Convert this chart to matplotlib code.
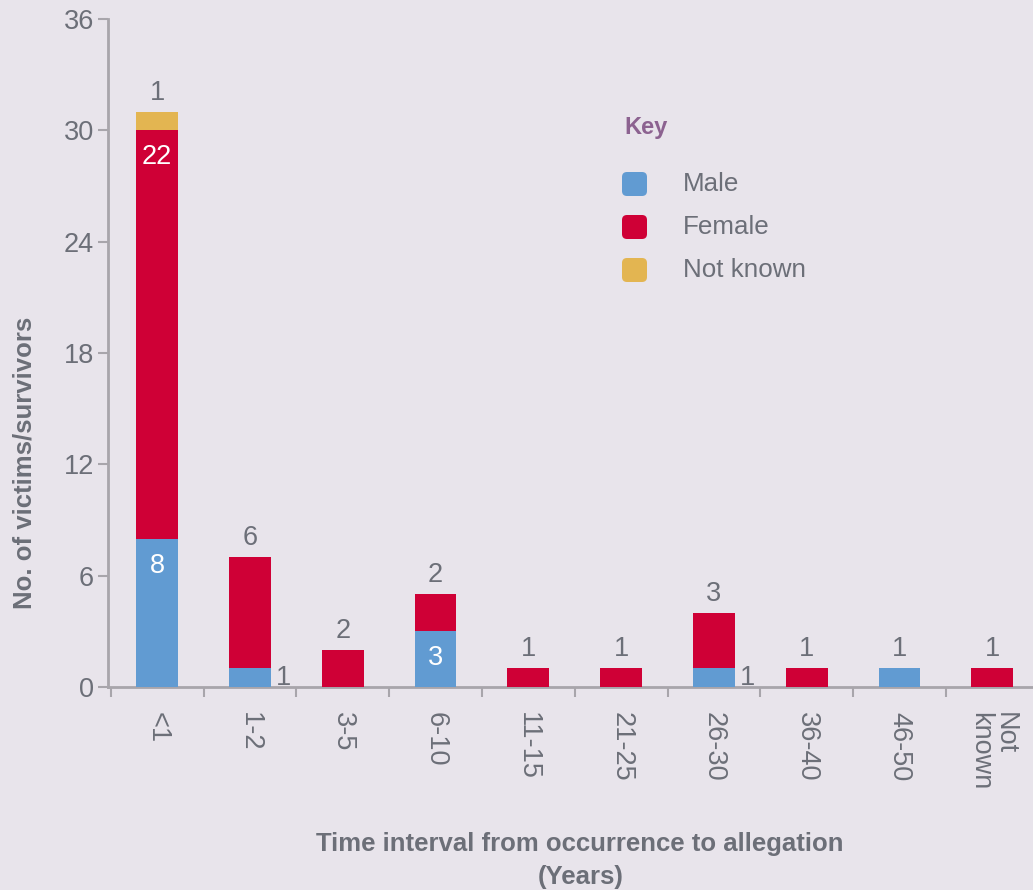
import matplotlib
matplotlib.use('Agg')
import matplotlib.pyplot as plt
import numpy as np
from matplotlib.patches import FancyBboxPatch

# data
categories = ['<1', '1-2', '3-5', '6-10', '11-15', '21-25', '26-30',
              '36-40', '46-50', 'Not\nknown']
male = [8, 1, 0, 3, 0, 0, 1, 0, 1, 0]
female = [22, 6, 2, 2, 1, 1, 3, 1, 0, 1]
not_known = [1, 0, 0, 0, 0, 0, 0, 0, 0, 0]
series_names = ['Male', 'Female', 'Not known']
yticks = [0, 6, 12, 18, 24, 30, 36]

BG = '#e8e4eb'
GREY = '#6c6f78'
SPINE = '#a8a5ab'
colors = ['#619bd2', '#cf0036', '#e3b551']
KEYCOL = '#8c6290'
FS = 19.5

plt.rcParams['font.family'] = ['Liberation Sans', 'DejaVu Sans']

fig = plt.figure(figsize=(10.33, 8.9), dpi=100, facecolor=BG)
ax = fig.add_axes([108 / 1033, 1 - 687 / 890, 1 - 108 / 1033 + 0.01,
                   (687 - 19) / 890])
ax.set_facecolor(BG)

x = np.arange(len(categories))
width = 0.45
series = [male, female, not_known]
bottoms = np.zeros(len(categories))
bars = []
for vals, col in zip(series, colors):
    vals = np.array(vals, dtype=float)
    ax.bar(x, vals, width, bottom=bottoms, color=col, zorder=3)
    bars.append((vals, bottoms.copy()))
    bottoms = bottoms + vals

totals = bottoms
# value labels: top segment above the bar, big ones inside, small to the right
for s, (vals, bots) in enumerate(bars):
    for i, v in enumerate(vals):
        if v == 0:
            continue
        top = bots[i] + v
        if top == totals[i]:
            ax.annotate(f'{int(v)}', (x[i], top), xytext=(0, 19),
                        textcoords='offset pixels', ha='center', va='center',
                        color=GREY, fontsize=FS)
        elif v >= 3:
            ax.annotate(f'{int(v)}', (x[i], top), xytext=(0, -27),
                        textcoords='offset pixels', ha='center', va='center',
                        color='white', fontsize=FS, zorder=4)
        else:
            ax.annotate(f'{int(v)}', (x[i] + width / 2, bots[i] + v / 2),
                        xytext=(5, 0), textcoords='offset pixels',
                        ha='left', va='center', color=GREY, fontsize=FS)

ax.set_xlim(-0.53, 9.55)
ax.set_ylim(0, 36)
ax.set_yticks(yticks)
ax.set_yticklabels([str(t) for t in yticks])
ax.set_xticks(x)
ax.set_xticklabels(categories, rotation=-90, va='top', ha='center',
                   multialignment='left', linespacing=0.95)
ax.set_xticks(x - 0.5, minor=True)
ax.tick_params(axis='x', which='major', length=0, pad=18, labelsize=FS,
               labelcolor=GREY)
ax.tick_params(axis='x', which='minor', length=7, width=1.5, color=SPINE)
ax.tick_params(axis='y', length=7, width=1.5, color=SPINE, labelsize=FS,
               labelcolor=GREY, pad=3)
for side in ['top', 'right']:
    ax.spines[side].set_visible(False)
for side in ['left', 'bottom']:
    ax.spines[side].set_color(SPINE)
    ax.spines[side].set_linewidth(2)

ax.set_xlabel('Time interval from occurrence to allegation\n(Years)',
              fontsize=18.5, fontweight='bold', color=GREY,
              linespacing=1.45)
ax.xaxis.set_label_coords((575 - 108) / (1033 - 108), -(832 - 687) / 668)
fig.text(25 / 1033, 1 - 463 / 890, 'No. of victims/survivors', rotation=90,
         ha='center', va='center', fontsize=18.5, fontweight='bold',
         color=GREY)

# key
lax = fig.add_axes([600 / 1033, 1 - 300 / 890, 260 / 1033, 200 / 890])
lax.set_xlim(600, 860)
lax.set_ylim(300, 100)
lax.axis('off')
lax.text(624, 128, 'Key', ha='left', va='center', color=KEYCOL,
         fontsize=17, fontweight='bold')
for k, (name, col) in enumerate(zip(series_names, colors)):
    yc = 184 + 43 * k
    lax.add_patch(FancyBboxPatch((625, yc - 9), 19, 18,
                                 boxstyle='round,pad=3,rounding_size=5',
                                 facecolor=col, edgecolor='none'))
    lax.text(683, yc, name, ha='left', va='center', color=GREY, fontsize=18.7)

fig.savefig('out.png', dpi=100, facecolor=BG)
